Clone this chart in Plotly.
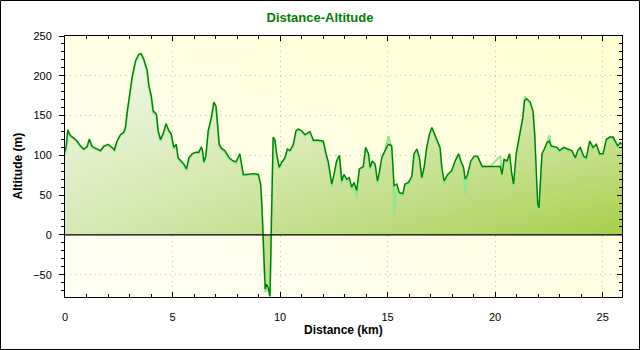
import base64
import plotly.graph_objects as go

# ---- data ----
distance_km = [
    0.00, 0.06, 0.13, 0.25, 0.40, 0.56, 0.72, 0.87, 1.03, 1.13, 1.26, 1.41, 1.65, 1.80, 2.00,
    2.19, 2.30, 2.42, 2.58, 2.73, 2.81, 2.89, 3.00, 3.12, 3.28, 3.43, 3.54, 3.66, 3.82, 3.90,
    4.01, 4.10, 4.25, 4.33, 4.44, 4.56, 4.70, 4.83, 4.94, 5.06, 5.17, 5.26, 5.40, 5.53, 5.65,
    5.76, 5.91, 6.07, 6.22, 6.33, 6.38, 6.46, 6.55, 6.66, 6.81, 6.92, 7.02, 7.08, 7.17, 7.28,
    7.43, 7.64, 7.82, 7.95, 8.06, 8.13, 8.21, 8.29, 8.44, 8.75, 8.99, 9.10, 9.16, 9.22, 9.27,
    9.31, 9.37, 9.45, 9.53, 9.59, 9.64, 9.68, 9.76, 9.84, 9.96, 10.07, 10.23, 10.34, 10.46, 10.62,
    10.74, 10.85, 11.00, 11.16, 11.39, 11.55, 11.78, 12.01, 12.14, 12.25, 12.40, 12.51, 12.63, 12.76, 12.87,
    12.97, 13.10, 13.22, 13.33, 13.44, 13.56, 13.69, 13.80, 13.87, 13.98, 14.11, 14.19, 14.29, 14.42, 14.53,
    14.62, 14.73, 14.88, 15.04, 15.19, 15.27, 15.30, 15.43, 15.55, 15.71, 15.81, 15.97, 16.13, 16.23, 16.36,
    16.48, 16.59, 16.70, 16.82, 16.95, 17.06, 17.18, 17.32, 17.44, 17.52, 17.63, 17.79, 17.99, 18.14, 18.30,
    18.41, 18.53, 18.61, 18.72, 18.87, 19.03, 19.18, 19.31, 19.40, 19.77, 20.16, 20.24, 20.32, 20.42, 20.55,
    20.67, 20.78, 20.86, 20.98, 21.09, 21.20, 21.29, 21.37, 21.48, 21.63, 21.76, 21.84, 21.91, 21.98, 22.04,
    22.10, 22.18, 22.29, 22.41, 22.52, 22.60, 22.75, 22.88, 23.00, 23.19, 23.37, 23.57, 23.73, 23.84, 23.96,
    24.12, 24.24, 24.40, 24.55, 24.71, 24.86, 25.02, 25.17, 25.33, 25.48, 25.59, 25.70, 25.82, 25.90,
]

altitude_dark = [
    105, 112, 132, 125, 122, 118, 112, 108, 111, 120, 111, 109, 106, 111, 114,
    110, 107, 118, 126, 129, 135, 154, 177, 198, 219, 227, 228, 221, 207, 188,
    175, 156, 152, 131, 120, 127, 140, 131, 127, 110, 114, 97, 93, 89, 83,
    97, 102, 104, 104, 110, 108, 92, 99, 131, 148, 167, 162, 139, 114, 109,
    106, 97, 93, 92, 97, 102, 89, 76, 76, 77, 76, 64, 34, -16, -50,
    -68, -62, -66, -77, -8, 68, 123, 120, 102, 85, 91, 97, 108, 106, 114,
    131, 133, 131, 126, 130, 119, 119, 118, 102, 91, 64, 76, 93, 100, 68,
    76, 70, 72, 60, 66, 56, 83, 85, 86, 110, 102, 85, 93, 89, 68,
    79, 97, 106, 114, 112, 76, 62, 64, 53, 52, 64, 66, 74, 102, 108,
    97, 72, 85, 110, 127, 135, 127, 118, 110, 85, 68, 76, 81, 93, 102,
    93, 85, 70, 76, 93, 99, 99, 92, 86, 86, 86, 86, 76, 95, 93,
    102, 76, 64, 102, 118, 133, 148, 169, 171, 167, 156, 127, 76, 39, 34,
    60, 102, 108, 116, 118, 112, 111, 110, 106, 110, 108, 106, 97, 106, 110,
    99, 97, 118, 110, 114, 102, 102, 120, 123, 123, 118, 112, 116, 114,
]

altitude_light = [
    100, 110, 130, 124, 121, 117, 111, 107, 110, 121, 110, 108, 105, 112, 113,
    109, 106, 117, 125, 128, 133, 152, 175, 196, 217, 226, 227, 220, 205, 186,
    172, 154, 150, 129, 118, 126, 138, 129, 125, 108, 112, 95, 91, 87, 81,
    95, 101, 103, 103, 109, 106, 90, 98, 129, 146, 165, 160, 137, 112, 107,
    104, 95, 92, 90, 95, 100, 87, 75, 75, 76, 75, 60, 30, -20, -55,
    -72, -66, -70, -78, -12, 62, 121, 118, 100, 83, 90, 96, 107, 105, 112,
    129, 132, 130, 125, 128, 118, 118, 116, 100, 88, 60, 74, 92, 99, 65,
    74, 68, 70, 57, 64, 47, 82, 84, 85, 109, 100, 82, 92, 87, 64,
    77, 96, 105, 124, 110, 72, 26, 60, 51, 50, 62, 64, 72, 100, 106,
    95, 70, 83, 108, 126, 134, 125, 116, 108, 82, 64, 74, 80, 92, 101,
    91, 82, 51, 74, 92, 98, 98, 90, 86, 86, 97, 99, 76, 94, 92,
    101, 74, 60, 100, 116, 131, 147, 174, 170, 165, 154, 124, 70, 32, 30,
    56, 100, 107, 115, 125, 110, 110, 108, 104, 109, 106, 104, 95, 104, 109,
    97, 95, 117, 108, 113, 100, 100, 119, 122, 122, 116, 110, 115, 113,
]

x_ticks = [0, 5, 10, 15, 20, 25]
y_ticks = [-50, 0, 50, 100, 150, 200, 250]
x_range = [0, 25.9]
y_range = [-78, 250]

# ---- plot-area background gradient (style only) ----
bg_svg = (
    '<svg xmlns="http://www.w3.org/2000/svg" width="100" height="100" preserveAspectRatio="none">'
    '<defs><linearGradient id="g" x1="0" y1="1" x2="1" y2="0">'
    '<stop offset="0" stop-color="#FFFFF6"/><stop offset="1" stop-color="#FFFFD2"/>'
    '</linearGradient></defs><rect width="100" height="100" fill="url(#g)"/></svg>'
)
bg_uri = "data:image/svg+xml;base64," + base64.b64encode(bg_svg.encode()).decode()

fig = go.Figure()

# base fill: horizontal green gradient
fig.add_trace(go.Scatter(
    x=distance_km, y=altitude_dark, mode="none", fill="tozeroy",
    fillgradient=dict(type="horizontal",
                      colorscale=[[0, "#D6E9B6"], [1, "#A6CF4A"]]),
    hoverinfo="skip", showlegend=False,
))
# overlay fill: whitening towards the top
fig.add_trace(go.Scatter(
    x=distance_km, y=altitude_dark, mode="none", fill="tozeroy",
    fillgradient=dict(type="vertical", start=0, stop=230,
                      colorscale=[[0, "rgba(255,255,255,0)"], [1, "rgba(255,255,255,0.72)"]]),
    hoverinfo="skip", showlegend=False,
))
# light green line
fig.add_trace(go.Scatter(
    x=distance_km, y=altitude_light, mode="lines",
    line=dict(color="#8FE88F", width=2), hoverinfo="skip", showlegend=False,
))
# dark green line (on right-side twin axis, same range)
fig.add_trace(go.Scatter(
    x=distance_km, y=altitude_dark, mode="lines", yaxis="y2",
    line=dict(color="#008000", width=1.4), hoverinfo="skip", showlegend=False,
))

font_family = "Liberation Sans, Arial, sans-serif"
grid_dash = "1px,4px"

fig.update_layout(
    width=640, height=350,
    margin=dict(l=65, r=18, t=36, b=53),
    paper_bgcolor="#FFFFFF",
    plot_bgcolor="rgba(0,0,0,0)",
    font=dict(family=font_family, size=11, color="#000000"),
    title=dict(text="<b>Distance-Altitude</b>", x=0.5, xref="container", xanchor="center",
               y=1 - 17 / 350, yref="container", yanchor="middle",
               font=dict(family=font_family, size=13, color="#008000")),
    xaxis=dict(
        range=x_range, tickvals=x_ticks, ticks="inside", ticklen=5, tickcolor="#000000",
        minor=dict(dtick=1, ticks="inside", ticklen=3, tickcolor="#000000", showgrid=False),
        showline=True, linecolor="#000000", linewidth=1, mirror="ticks",
        showgrid=True, gridcolor="#C0C0C0", griddash=grid_dash, gridwidth=1,
        zeroline=False, ticklabelstandoff=10,
    ),
    yaxis=dict(
        range=y_range, tickvals=y_ticks, ticks="outside", ticklen=5, tickcolor="#000000",
        minor=dict(dtick=10, ticks="outside", ticklen=3, tickcolor="#000000", showgrid=False),
        showline=True, linecolor="#000000", linewidth=1, mirror=True,
        showgrid=True, gridcolor="#C0C0C0", griddash=grid_dash, gridwidth=1,
        zeroline=False, ticklabelstandoff=5,
    ),
    yaxis2=dict(
        range=y_range, tickvals=y_ticks, overlaying="y", side="right", anchor="x",
        ticks="inside", ticklen=5, tickcolor="#000000",
        minor=dict(dtick=10, ticks="inside", ticklen=3, tickcolor="#000000", showgrid=False),
        showticklabels=False, showgrid=False, zeroline=False, showline=False,
    ),
    images=[dict(source=bg_uri, xref="paper", yref="paper", x=0, y=1, sizex=1, sizey=1,
                 xanchor="left", yanchor="top", sizing="stretch", layer="below")],
    shapes=[
        dict(type="line", xref="paper", x0=0, x1=1, yref="y", y0=0, y1=0,
             line=dict(color="#000000", width=1.2), layer="above"),
        dict(type="rect", xref="paper", yref="paper",
             x0=(0.5 - 65) / 557, x1=(639.5 - 65) / 557,
             y0=(297 - 349.5) / 261, y1=(297 - 0.5) / 261,
             line=dict(color="#000000", width=1), layer="above"),
    ],
    annotations=[
        dict(text="<b>Distance (km)</b>", xref="paper", yref="paper", x=0.5,
             y=(297 - 330) / 261, xanchor="center", yanchor="middle", showarrow=False,
             font=dict(family=font_family, size=12, color="#000000")),
        dict(text="<b>Altitude (m)</b>", xref="paper", yref="paper", x=(17 - 65) / 557,
             y=0.5, xanchor="center", yanchor="middle", textangle=-90, showarrow=False,
             font=dict(family=font_family, size=12, color="#000000")),
    ],
)

fig.write_html("out.html", config={"displayModeBar": False},
               post_script="document.body.style.margin='0';document.body.style.padding='0';")
